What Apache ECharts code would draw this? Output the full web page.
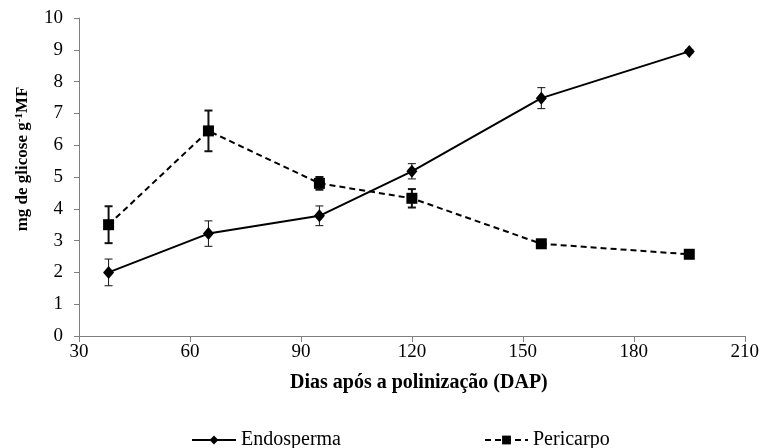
<!DOCTYPE html>
<html>
<head>
<meta charset="utf-8">
<script src="https://cdn.jsdelivr.net/npm/echarts@6/dist/echarts.min.js"></script>
<style>
  html, body { margin: 0; padding: 0; background: #fff; }
  #chart { width: 762px; height: 448px; }
</style>
</head>
<body>
<div id="chart"></div>
<script>
// Days after pollination
const days = [38, 65, 95, 120, 155, 195];

// Glucose content (mg g-1 MF) and standard errors
const endospermaMean = [2.0, 3.22, 3.78, 5.18, 7.48, 8.95];
const endospermaErr  = [0.42, 0.40, 0.31, 0.24, 0.33, 0.06];
const pericarpoMean  = [3.5, 6.45, 4.8, 4.33, 2.9, 2.57];
const pericarpoErr   = [0.58, 0.64, 0.2, 0.29, 0.05, 0.05];

const xTicks = [30, 60, 90, 120, 150, 180, 210];
const yTicks = [0, 1, 2, 3, 4, 5, 6, 7, 8, 9, 10];

const FONT = '"Liberation Serif", "Times New Roman", serif';
const AXIS_COLOR = '#7f7f7f';

function pairs(xs, ys) { return xs.map((x, i) => [x, ys[i]]); }
function bars(xs, ys, es) { return xs.map((x, i) => [x, ys[i] - es[i], ys[i] + es[i]]); }

function errorSeries(data, width) {
  return {
    type: 'custom',
    silent: true,
    z: 1,
    data: data,
    encode: { x: 0, y: [1, 2] },
    renderItem: function (params, api) {
      const x = api.value(0);
      const lo = api.coord([x, api.value(1)]);
      const hi = api.coord([x, api.value(2)]);
      const cap = 4;
      const style = { stroke: '#111', lineWidth: width, fill: null };
      return {
        type: 'group',
        children: [
          { type: 'line', shape: { x1: lo[0], y1: lo[1], x2: hi[0], y2: hi[1] }, style: style },
          { type: 'line', shape: { x1: hi[0] - cap, y1: hi[1], x2: hi[0] + cap, y2: hi[1] }, style: style },
          { type: 'line', shape: { x1: lo[0] - cap, y1: lo[1], x2: lo[0] + cap, y2: lo[1] }, style: style }
        ]
      };
    }
  };
}

const chart = echarts.init(document.getElementById('chart'), null, { renderer: 'canvas' });

const legendText = { fontFamily: FONT, fontSize: 20, color: '#000' };

chart.setOption({
  backgroundColor: '#ffffff',
  animation: false,
  textStyle: { fontFamily: FONT, color: '#000' },
  grid: { left: 79, right: 17, top: 18, bottom: 112, containLabel: false },
  xAxis: {
    type: 'value',
    min: xTicks[0],
    max: xTicks[xTicks.length - 1],
    interval: 30,
    splitLine: { show: false },
    axisLine: { onZero: false, lineStyle: { color: AXIS_COLOR, width: 1 } },
    axisTick: { show: true, length: 6, lineStyle: { color: AXIS_COLOR } },
    axisLabel: { fontFamily: FONT, fontSize: 19, color: '#000', margin: 7 },
    name: 'Dias após a polinização (DAP)',
    nameLocation: 'middle',
    nameGap: 37,
    nameTextStyle: {
      fontFamily: FONT, fontSize: 20, fontWeight: 'bold', color: '#000',
      verticalAlign: 'top', padding: [0, 0, 0, 14]
    }
  },
  yAxis: {
    type: 'value',
    min: yTicks[0],
    max: yTicks[yTicks.length - 1],
    interval: 1,
    splitLine: { show: false },
    axisLine: { show: true, lineStyle: { color: AXIS_COLOR, width: 1 } },
    axisTick: { show: true, length: 5, lineStyle: { color: AXIS_COLOR } },
    axisLabel: { fontFamily: FONT, fontSize: 19, color: '#000', margin: 16 }
  },
  legend: [
    {
      left: 186, top: 425,
      itemWidth: 44, itemHeight: 11, itemGap: 3,
      textStyle: legendText,
      data: ['Endosperma']
    },
    {
      left: 479, top: 425,
      itemWidth: 43, itemHeight: 11, itemGap: 3,
      textStyle: legendText,
      data: ['Pericarpo']
    }
  ],
  graphic: [
    {
      type: 'text',
      x: 23, y: 159,
      rotation: Math.PI / 2,
      style: {
        text: 'mg de glicose g{sup|-1}MF',
        font: 'bold 17px ' + FONT,
        fill: '#000',
        align: 'center',
        verticalAlign: 'middle',
        rich: {
          sup: { font: 'bold 11px ' + FONT, fill: '#000', verticalAlign: 'top', padding: [0, 0, 8, 0] }
        }
      }
    }
  ],
  series: [
    errorSeries(bars(days, endospermaMean, endospermaErr), 1),
    errorSeries(bars(days, pericarpoMean, pericarpoErr), 2),
    {
      name: 'Endosperma',
      type: 'line',
      z: 3,
      data: pairs(days, endospermaMean),
      symbol: 'diamond',
      symbolSize: [11, 13],
      itemStyle: { color: '#000' },
      lineStyle: { color: '#000', width: 2, type: 'solid' }
    },
    {
      name: 'Pericarpo',
      type: 'line',
      z: 3,
      data: pairs(days, pericarpoMean),
      symbol: 'rect',
      symbolSize: 11,
      itemStyle: { color: '#000' },
      lineStyle: { color: '#000', width: 2, type: [6, 4] }
    }
  ]
});
</script>
</body>
</html>
